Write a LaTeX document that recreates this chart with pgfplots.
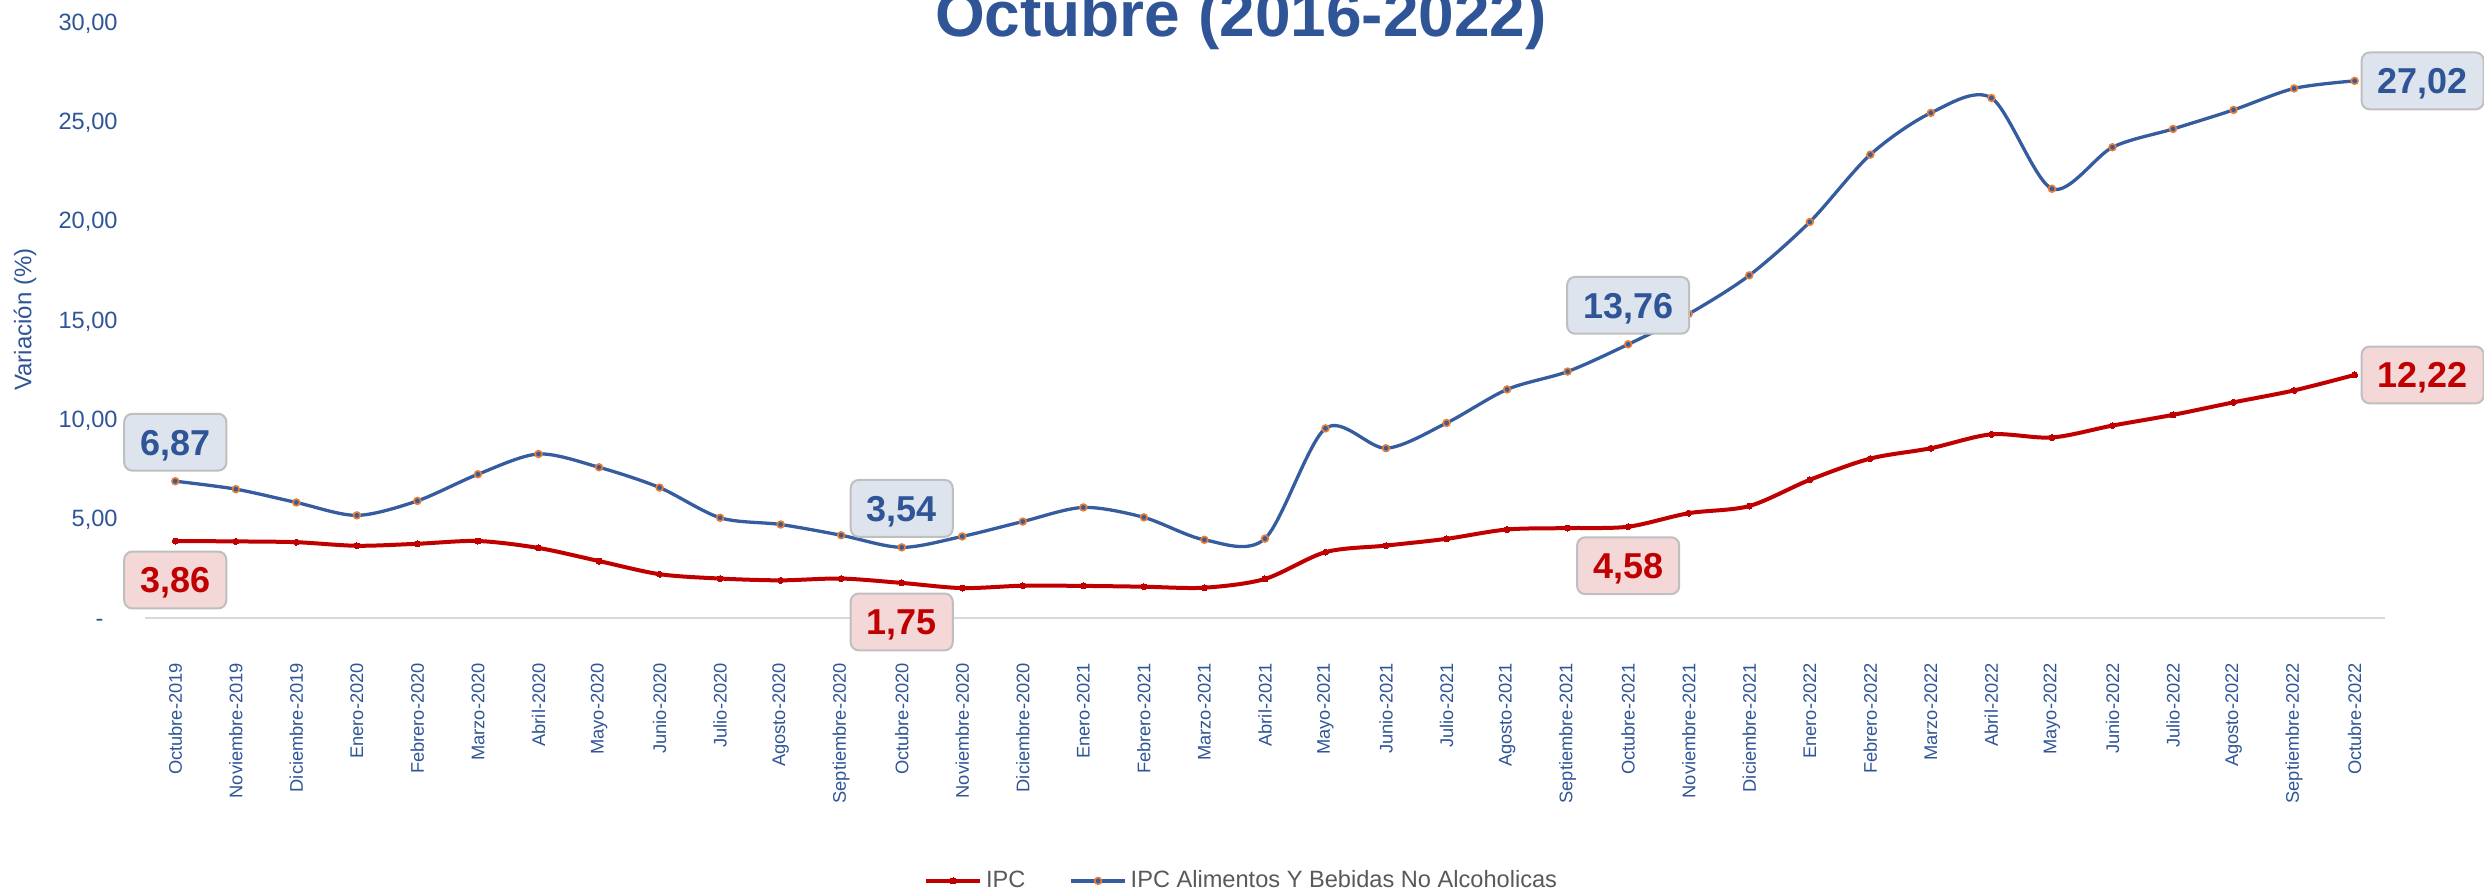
\documentclass[border=0pt]{standalone}
\usepackage{fontspec}
\setmainfont{Liberation Sans}
\usepackage{pgfplots}
\pgfplotsset{compat=1.18}
\definecolor{ipcred}{RGB}{192,0,0}
\definecolor{foodblue}{RGB}{52,92,158}
\definecolor{txtblue}{RGB}{47,85,151}
\definecolor{mkorange}{RGB}{237,125,49}
\definecolor{boxblue}{RGB}{221,228,238}
\definecolor{boxred}{RGB}{244,215,215}
\definecolor{boxborder}{RGB}{191,191,191}
\definecolor{axgray}{RGB}{217,217,217}
\definecolor{leggray}{RGB}{89,89,89}
\tikzset{
  lblbox/.style={draw=boxborder, line width=1pt, rounded corners=4pt,
    font=\fontsize{18}{18}\selectfont\bfseries, inner xsep=8pt, inner ysep=0pt,
    text height=12.9pt, text depth=0pt, minimum height=28.4pt},
  bluebox/.style={lblbox, fill=boxblue, text=txtblue},
  redbox/.style={lblbox, fill=boxred, text=ipcred},
}
\begin{document}
\begin{tikzpicture}
\begin{axis}[
  at={(72.5pt,137.15pt)}, anchor=south west,
  width=1120pt, height=298pt, scale only axis,
  xmin=-0.5, xmax=36.5, ymin=0, ymax=30,
  clip=false,
  axis x line*=bottom, axis y line*=left,
  x axis line style={draw=axgray, line width=1pt, -},
  y axis line style={draw=none},
  major tick length=0pt,
  xtick={0,...,36},
  xticklabels={Octubre-2019,Noviembre-2019,Diciembre-2019,Enero-2020,Febrero-2020,Marzo-2020,Abril-2020,Mayo-2020,Junio-2020,Julio-2020,Agosto-2020,Septiembre-2020,Octubre-2020,Noviembre-2020,Diciembre-2020,Enero-2021,Febrero-2021,Marzo-2021,Abril-2021,Mayo-2021,Junio-2021,Julio-2021,Agosto-2021,Septiembre-2021,Octubre-2021,Noviembre-2021,Diciembre-2021,Enero-2022,Febrero-2022,Marzo-2022,Abril-2022,Mayo-2022,Junio-2022,Julio-2022,Agosto-2022,Septiembre-2022,Octubre-2022},
  ytick={0,5,10,15,20,25,30},
  yticklabels={{-\hspace*{7pt}},{5,00},{10,00},{15,00},{20,00},{25,00},{30,00}},
  xticklabel style={rotate=90, anchor=east, inner sep=0pt, font=\fontsize{9.15}{9.15}\selectfont, text=txtblue},
  xticklabel shift=22.5pt,
  yticklabel style={anchor=east, inner sep=0pt, font=\fontsize{11.8}{11.8}\selectfont, text=txtblue, text height=8.45pt, text depth=0pt},
  yticklabel shift=13.5pt,
  ylabel={Variación (\%)},
  ylabel style={at={(axis description cs:-0.0536,0.5)}, anchor=center, font=\fontsize{12}{12}\selectfont, text=txtblue},
  title={Octubre (2016-2022)},
  every axis title/.style={at={(axis description cs:0.4893,0.9756)}, anchor=base, inner sep=0pt, font=\fontsize{32}{32}\selectfont\bfseries, text=txtblue},
  legend columns=2,
  legend style={at={(0.490,-0.4416)}, anchor=center, draw=none, fill=none,
    font=\fontsize{11.8}{11.8}\selectfont, text=leggray,
    /tikz/every even column/.append style={column sep=20pt}},
  legend image code/.code={\draw[mark repeat=2, mark phase=2, #1] plot coordinates {(0pt,0pt) (13.5pt,0pt) (27pt,0pt)};},
]
\addplot[color=ipcred, line width=2pt, smooth, mark=*, mark size=1.5pt, mark options={fill=ipcred, draw=ipcred, line width=0pt}] coordinates {
(0,3.86) (1,3.84) (2,3.80) (3,3.62) (4,3.72) (5,3.86) (6,3.51) (7,2.85) (8,2.19) (9,1.97) (10,1.88) (11,1.97) (12,1.75) (13,1.49) (14,1.61) (15,1.60) (16,1.56) (17,1.51) (18,1.95) (19,3.30) (20,3.63) (21,3.97) (22,4.44) (23,4.51) (24,4.58) (25,5.26) (26,5.62) (27,6.94) (28,8.01) (29,8.53) (30,9.23) (31,9.07) (32,9.67) (33,10.21) (34,10.84) (35,11.44) (36,12.22)};
\addlegendentry{IPC}
\addplot[color=foodblue, line width=1.65pt, smooth, mark=*, mark size=1.7pt, mark options={fill=foodblue, draw=mkorange, line width=0.8pt}] coordinates {
(0,6.87) (1,6.47) (2,5.80) (3,5.15) (4,5.88) (5,7.22) (6,8.24) (7,7.57) (8,6.55) (9,5.03) (10,4.69) (11,4.15) (12,3.54) (13,4.09) (14,4.84) (15,5.55) (16,5.05) (17,3.92) (18,3.98) (19,9.53) (20,8.53) (21,9.80) (22,11.49) (23,12.39) (24,13.76) (25,15.29) (26,17.23) (27,19.92) (28,23.31) (29,25.41) (30,26.16) (31,21.59) (32,23.68) (33,24.60) (34,25.56) (35,26.64) (36,27.02)};
\addlegendentry{IPC Alimentos Y Bebidas No Alcoholicas}
% data labels
\addplot[draw=none, mark=none, forget plot, point meta=explicit symbolic, nodes near coords,
  every node near coord/.append style={bluebox, anchor=center, yshift=19.5pt}]
  coordinates {(0,6.87) [{6,87}] (12,3.54) [{3,54}] (24,13.76) [{13,76}]};
\addplot[draw=none, mark=none, forget plot, point meta=explicit symbolic, nodes near coords,
  every node near coord/.append style={bluebox, anchor=west, xshift=3pt, yshift=0pt}]
  coordinates {(36,27.02) [{27,02}]};
\addplot[draw=none, mark=none, forget plot, point meta=explicit symbolic, nodes near coords,
  every node near coord/.append style={redbox, anchor=center, yshift=-19.5pt}]
  coordinates {(0,3.86) [{3,86}] (12,1.75) [{1,75}] (24,4.58) [{4,58}]};
\addplot[draw=none, mark=none, forget plot, point meta=explicit symbolic, nodes near coords,
  every node near coord/.append style={redbox, anchor=west, xshift=3pt, yshift=0pt}]
  coordinates {(36,12.22) [{12,22}]};
\end{axis}
\pgfresetboundingbox
\path[use as bounding box] (0,0) rectangle (1242pt,446pt);
\end{tikzpicture}
\end{document}
